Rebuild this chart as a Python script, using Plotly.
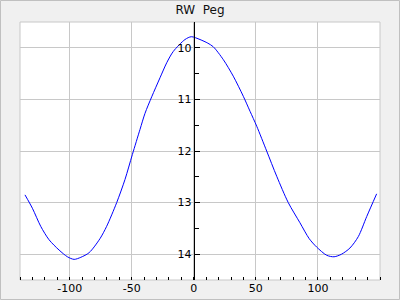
import plotly.graph_objects as go

phase = [-136, -130, -123.3, -116.6, -108.5, -101.8, -96.4, -91, -84.3, -75.6, -70.2,
         -62.1, -55.4, -49.5, -43.3, -39.3, -33.9, -27.2, -21.8, -16.5, -7.1, -2, 5,
         11.3, 15.7, 23.8, 31.8, 39.9, 45.3, 50.7, 58.7, 66.8, 76.1, 85.5, 93, 98.9,
         107, 113, 119, 125.8, 132.5, 139.3, 147.3]
mag = [12.85, 13.11, 13.46, 13.72, 13.92, 14.05, 14.10, 14.06, 13.97, 13.70, 13.46,
       13.00, 12.55, 12.07, 11.58, 11.27, 10.95, 10.58, 10.29, 10.07, 9.84, 9.785, 9.84,
       9.91, 9.98, 10.23, 10.55, 10.94, 11.23, 11.52, 12.00, 12.49, 13.00, 13.39, 13.70,
       13.86, 14.02, 14.05, 14.00, 13.88, 13.66, 13.27, 12.83]
title = "RW  Peg"
x_ticks = [-100, -50, 0, 50, 100]
x_labels = ["-100", "-50", "0", "50", "100"]
y_ticks = [10, 11, 12, 13, 14]
y_labels = ["10", "11", "12", "13", "14"]

W, H = 400, 300
L, R, T, B = 20, 20, 22, 20
pw, ph = W - L - R, H - T - B
xr = [-140, 150]
yr = [14.5, 9.5]

fig = go.Figure()
fig.add_trace(go.Scatter(x=phase, y=mag, mode="lines",
                         line=dict(color="#0000ff", width=1, shape="spline", smoothing=0.8),
                         hoverinfo="skip"))

font = dict(family="DejaVu Sans", size=11, color="#000000")
grid = "#c8c8c8"
fig.update_layout(
    width=W, height=H, margin=dict(l=L, r=R, t=T, b=B, autoexpand=False),
    paper_bgcolor="#f0f0f0", plot_bgcolor="#ffffff",
    showlegend=False,
    title=dict(text=title, x=0.5, xanchor="center", y=1 - 10 / H, yanchor="middle",
               font=dict(family="DejaVu Sans", size=12, color="#111111")),
    xaxis=dict(range=xr, tickmode="array", tickvals=x_ticks, ticktext=x_labels,
               showgrid=True, gridcolor=grid,
               gridwidth=1, zeroline=False, showline=False, ticks="", tickfont=font,
               automargin=False,
               minor=dict(ticks="inside", dtick=10, tick0=0, ticklen=3, tickcolor="#000000",
                          showgrid=False)),
    yaxis=dict(range=yr, tickmode="array", tickvals=y_ticks, ticktext=y_labels, anchor="free",
               position=(0 - xr[0]) / (xr[1] - xr[0]), automargin=False,
               showgrid=True, gridcolor=grid, gridwidth=1, zeroline=False,
               showline=True, linecolor="#000000", linewidth=1,
               ticks="inside", ticklen=5, tickcolor="#000000", tickfont=font,
               minor=dict(ticks="inside", dtick=0.5, tick0=0, ticklen=4, tickcolor="#000000",
                          showgrid=False)),
    shapes=[
        dict(type="rect", xref="paper", yref="paper", x0=0, x1=1, y0=0, y1=1,
             line=dict(color="#c8c8c8", width=1), layer="below"),
        dict(type="rect", xref="paper", yref="paper",
             x0=(0.5 - L) / pw, x1=(W - 0.5 - L) / pw,
             y0=(H - B - (H - 0.5)) / ph, y1=(H - B - 0.5) / ph,
             line=dict(color="#c0c0c0", width=1), layer="below"),
    ],
)

fig.write_html("out.html")
